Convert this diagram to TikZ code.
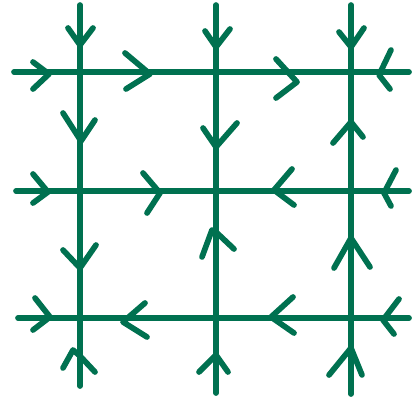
\documentclass[tikz,border=0pt]{standalone}
\definecolor{gridgreen}{RGB}{0,113,80}
\begin{document}
\begin{tikzpicture}[x=1pt,y=-1pt,
  gridline/.style={draw=gridgreen,line width=5.7pt,line cap=round,line join=round},
  chev/.style={draw=gridgreen,line width=5.7pt,line cap=round,line join=round}]
\useasboundingbox (0,0) rectangle (412,400);
% grid end points
\coordinate (v1t) at (80,5);   \coordinate (v1b) at (80,386);
\coordinate (v2t) at (216,5);  \coordinate (v2b) at (216,393);
\coordinate (v3t) at (351,5);  \coordinate (v3b) at (351,394);
\coordinate (h1l) at (14,72);  \coordinate (h1r) at (409,72);
\coordinate (h2l) at (16,191); \coordinate (h2r) at (409,191);
\coordinate (h3l) at (18,318); \coordinate (h3r) at (409,318);
\draw[gridline] (v1t) -- (v1b);
\draw[gridline] (v2t) -- (v2b);
\draw[gridline] (v3t) -- (v3b);
\draw[gridline] (h1l) -- (h1r);
\draw[gridline] (h2l) -- (h2r);
\draw[gridline] (h3l) -- (h3r);
% vertical x=80
\draw[chev] (68,28) -- (80,45) -- (93,28);
\draw[chev] (63,113) -- (81,141) -- (95,120);
\draw[chev] (63,250) -- (80,268) -- (96,245);
\draw[chev] (63,368) -- (73,350) -- (80,356) -- (95,372);
% vertical x=216
\draw[chev] (205,31) -- (216,47) -- (230,29);
\draw[chev] (203,128) -- (216,147) -- (237,123);
\draw[chev] (202,257) -- (212,230) -- (216,232) -- (234,249);
\draw[chev] (199,372) -- (216,355) -- (228,372);
% vertical x=351
\draw[chev] (339,32) -- (351,47) -- (364,28);
\draw[chev] (333,143) -- (351,122) -- (363,137);
\draw[chev] (334,268) -- (351,238) -- (370,267);
\draw[chev] (329,375) -- (351,348) -- (362,375);
% horizontal y=72
\draw[chev] (33,62) -- (49,74) -- (33,89);
\draw[chev] (125,53) -- (150,74) -- (126,89);
\draw[chev] (276,59) -- (297,82) -- (276,98);
\draw[chev] (391,50) -- (379,75) -- (390,89);
% horizontal y=191
\draw[chev] (33,174) -- (48,192) -- (33,203);
\draw[chev] (143,173) -- (160,193) -- (147,213);
\draw[chev] (292,169) -- (274,190) -- (294,205);
\draw[chev] (396,170) -- (384,193) -- (391,206);
% horizontal y=318
\draw[chev] (35,298) -- (50,317) -- (33,330);
\draw[chev] (145,303) -- (123,322) -- (147,337);
\draw[chev] (293,297) -- (271,317) -- (294,333);
\draw[chev] (399,299) -- (383,320) -- (394,334);
\end{tikzpicture}
\end{document}
